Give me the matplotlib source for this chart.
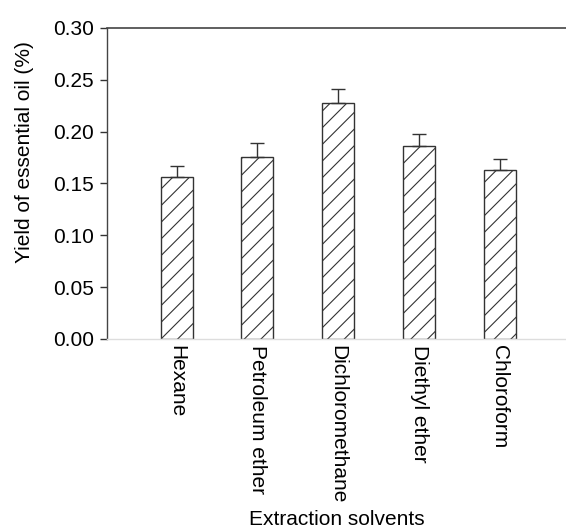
import matplotlib
matplotlib.use("Agg")
import matplotlib.pyplot as plt
import numpy as np

plt.rcParams['font.family'] = ['Liberation Sans', 'DejaVu Sans']
plt.rcParams['hatch.linewidth'] = 0.8

solvents = ["Hexane", "Petroleum ether", "Dichloromethane", "Diethyl ether", "Chloroform"]
yields = [0.156, 0.176, 0.228, 0.186, 0.163]
errors = [0.0105, 0.013, 0.0135, 0.012, 0.011]
yticks = [0.00, 0.05, 0.10, 0.15, 0.20, 0.25, 0.30]

fig = plt.figure(figsize=(5.66, 5.32), dpi=100)
ax = fig.add_axes([0.1885, 0.3628, 0.8115, 0.5846])

x = np.arange(len(solvents))
edge = '#333333'
ax.bar(x, yields, width=0.396, color='white', edgecolor=edge, linewidth=1.0,
       hatch='//', zorder=2)
ax.errorbar(x, yields, yerr=[np.zeros(len(errors)), errors], fmt='none',
            ecolor=edge, elinewidth=1.0, capsize=5, capthick=1.0, zorder=3)

ax.set_xlim(-0.867, 4.82)
ax.set_ylim(0, 0.30)
ax.set_yticks(yticks)
ax.set_yticklabels([f"{v:.2f}" for v in yticks], fontsize=15)
ax.set_xticks(x)
ax.set_xticklabels(solvents, rotation=-90, fontsize=15, va='top', ha='center')
ax.tick_params(axis='x', length=0, pad=4)
ax.tick_params(axis='y', direction='out', length=5, width=1.0, color=edge, pad=4)

ax.spines['right'].set_visible(False)
ax.spines['top'].set_color('#444444')
ax.spines['top'].set_linewidth(1.2)
ax.spines['left'].set_color('#444444')
ax.spines['left'].set_linewidth(1.0)
ax.spines['bottom'].set_color('#dddddd')
ax.spines['bottom'].set_linewidth(1.0)

ax.set_ylabel("Yield of essential oil (%)", fontsize=15, va='center')
ax.yaxis.set_label_coords(-0.180, 0.601)
ax.set_xlabel("Extraction solvents", fontsize=15, labelpad=5)

fig.savefig("out.png", dpi=100)
